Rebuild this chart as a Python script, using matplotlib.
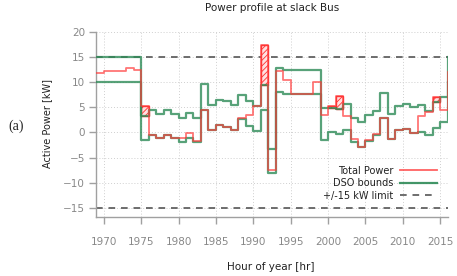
import numpy as np
import matplotlib
matplotlib.use("Agg")
import matplotlib.pyplot as plt

# ---------------- data (hourly, step 'post') ----------------
hours = list(range(1969, 2017))

dso_upper = [15, 15, 15, 15, 15, 15,
             3.3, 4.5, 3.6, 4.5, 3.7, 2.9, 3.9, 2.9,
             9.6, 5.4, 6.5, 6.2, 5.4, 7.5, 6.2, 5.2, 9.5,
             -3.2,
             12.8, 12.5, 12.5, 12.5, 12.5, 12.5,
             4.9, 4.8, 4.6, 5.6,
             2.8, 2.1, 3.4, 4.3, 7.9, 3.6, 5.2, 5.7, 5.0, 5.4, 4.2, 6.1, 7.0,
             15]

dso_lower = [10, 10, 10, 10, 10, 10,
             -1.6, -0.5, -1.1, -0.5, -1.1, -2.0, -1.05, -2.0,
             4.5, 0.4, 1.4, 1.05, 0.4, 2.6, 1.25, 0.26, 4.4,
             -8.0,
             8.1, 7.7, 7.7, 7.7, 7.7, 7.7,
             -1.5, 0.0, -0.3, 0.5,
             -2.0, -2.9, -1.7, -0.5, 2.8, -1.3, 0.4, 0.7, -0.2, 0.1, -0.6, 0.9, 2.0,
             10]

total_power = [11.75, 12.2, 12.2, 12.3, 12.8, 12.5,
               5.3, -0.5, -1.1, -0.5, -1.1, -1.05, -0.1, -1.7,
               4.5, 0.4, 1.4, 1.05, 0.4, 2.8, 3.4, 5.2, 17.4,
               -7.5,
               12.2, 10.4, 7.7, 7.7, 7.7, 10.0,
               3.5, 5.3, 7.3, 3.35,
               -1.3, -2.9, -1.6, -0.4, 2.8, -1.3, 0.4, 0.7, -0.2, 3.2, 4.0, 7.0, 4.4,
               12]

limit = 15
x_ticks = list(range(1970, 2016, 5))
y_ticks = list(range(-15, 21, 5))

# ---------------- figure ----------------
plt.rcParams['font.family'] = ['DejaVu Sans']
plt.rcParams['hatch.linewidth'] = 0.6

fig = plt.figure(figsize=(4.57, 2.76), dpi=100)
ax = fig.add_axes([0.2107, 0.2127, 0.9797 - 0.2107, 0.884 - 0.2127])

hrs = np.array(hours, dtype=float)
up = np.array(dso_upper)
lo = np.array(dso_lower)
tp = np.array(total_power)

ax.set_xlim(1969, 2016)
ax.set_ylim(-16.9, 20)

# grid
for xt in x_ticks:
    ax.axvline(xt, color='#cfcfcf', lw=0.7, ls=(0, (1, 2)), zorder=0)
for yt in y_ticks:
    ax.axhline(yt, color='#cfcfcf', lw=0.7, ls=(0, (1, 2)), zorder=0)

# limits
ax.axhline(limit, color='#555555', lw=1.2, ls=(0, (4, 3.5)), zorder=1)
ax.axhline(-limit, color='#555555', lw=1.2, ls=(0, (4, 3.5)), zorder=1)

# violation hatch
viol = tp > up
ax.bar(hrs[viol], (tp - up)[viol], bottom=up[viol], width=1, align='edge',
       facecolor='#ffe0e0', edgecolor='#ff3030', hatch='//////', lw=1.0, zorder=2)

green = '#2e8b57'
red = '#ff3b3b'
ax.step(hrs, up, where='post', color=green, lw=1.6, alpha=0.8, zorder=3)
ax.step(hrs, lo, where='post', color=green, lw=1.6, alpha=0.8, zorder=3)
ax.step(hrs, tp, where='post', color=red, lw=1.3, alpha=0.7, zorder=4)

# legend proxies
from matplotlib.lines import Line2D
handles = [Line2D([], [], color=red, lw=1.3, alpha=0.8),
           Line2D([], [], color=green, lw=1.6, alpha=0.9),
           Line2D([], [], color='#555555', lw=1.2, ls=(0, (4, 3.5)))]
labels = ['Total Power', 'DSO bounds', '+/-15 kW limit']
leg = ax.legend(handles, labels, loc='lower right', bbox_to_anchor=(0.97, 0.09),
                frameon=False, markerfirst=False, fontsize=7, handlelength=3.8,
                handletextpad=0.7, labelspacing=0.25, borderpad=0, borderaxespad=0)
for t in leg.get_texts():
    t.set_color('#222222')

# axes styling
for s in ['top', 'right']:
    ax.spines[s].set_visible(False)
for s in ['left', 'bottom']:
    ax.spines[s].set_color('#a0a0a0')
    ax.spines[s].set_linewidth(1.0)
ax.set_xticks(x_ticks)
ax.set_yticks(y_ticks)
ax.tick_params(axis='both', direction='out', length=5, width=1.0, color='#a0a0a0',
               labelcolor='#888888', labelsize=7.5)
ax.tick_params(axis='x', pad=9)
ax.tick_params(axis='y', pad=3)

fig.text(0.595, 0.971, 'Power profile at slack Bus', ha='center', va='center',
         fontsize=7.5, color='#222222')
fig.text(0.593, 0.033, 'Hour of year [hr]', ha='center', va='center',
         fontsize=7.5, color='#222222')
fig.text(0.103, 0.551, 'Active Power [kW]', ha='center', va='center',
         rotation=90, fontsize=7, color='#222222')
fig.text(0.035, 0.543, '(a)', ha='center', va='center', fontsize=10,
         family=['Liberation Serif', 'DejaVu Serif'], color='#222222')

fig.savefig('out.png', dpi=100)
